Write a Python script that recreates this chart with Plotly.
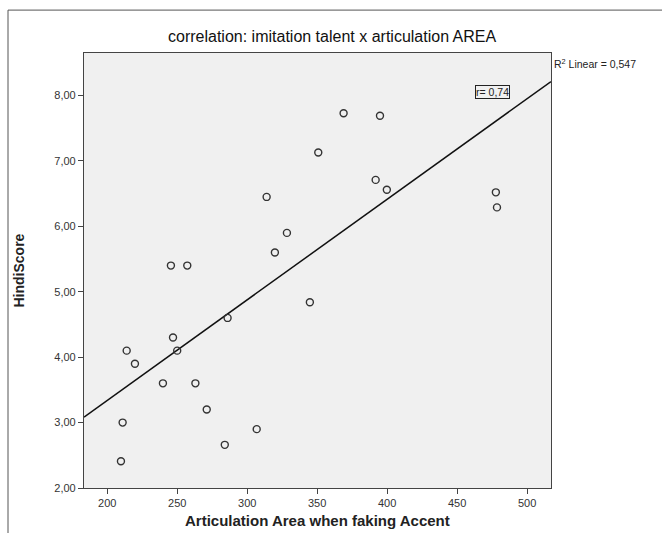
import numpy as np
import plotly.graph_objects as go

# ---- data ----
articulation_area = [209.8, 211.0, 213.9, 219.8, 239.8, 245.5, 247.0, 250.0, 257.2, 263.0,
                     271.1, 284.0, 286.0, 306.8, 313.9, 319.8, 328.4, 344.8, 350.8, 368.9,
                     391.8, 394.9, 399.8, 477.7, 478.5]
hindi_score = [2.41, 3.00, 4.10, 3.90, 3.60, 5.40, 4.30, 4.10, 5.40, 3.60,
               3.20, 2.66, 4.60, 2.90, 6.45, 5.60, 5.90, 4.84, 7.13, 7.73,
               6.71, 7.69, 6.56, 6.52, 6.29]
x_ticks = [200, 250, 300, 350, 400, 450, 500]
y_ticks = [2, 3, 4, 5, 6, 7, 8]
y_tick_labels = ["2,00", "3,00", "4,00", "5,00", "6,00", "7,00", "8,00"]
title_text = "correlation: imitation talent x articulation AREA"
x_title = "Articulation Area when faking Accent"
y_title = "HindiScore"
r2_text = "R<sup>2</sup> Linear = 0,547"
r_text = "r= 0,74"

x_range = [183.4, 517.1]
y_range = [2.0, 8.65]

# fit line from the data
xa = np.array(articulation_area)
ya = np.array(hindi_score)
slope, intercept = np.polyfit(xa, ya, 1)
line_x = np.array(x_range)
line_y = intercept + slope * line_x

FONT = "Arial, 'Liberation Sans', sans-serif"
fig = go.Figure()
fig.add_trace(go.Scatter(x=line_x, y=line_y, mode="lines",
                         line=dict(color="#111111", width=1.5),
                         hoverinfo="skip", showlegend=False))
fig.add_trace(go.Scatter(x=articulation_area, y=hindi_score, mode="markers",
                         marker=dict(symbol="circle-open", size=7,
                                     color="#333333", line=dict(width=1.4, color="#333333")),
                         showlegend=False))

fig.update_layout(
    width=662, height=533,
    margin=dict(l=84, r=111, t=53, b=45),
    paper_bgcolor="white",
    plot_bgcolor="#f0f0f0",
    font=dict(family=FONT, color="#333333", size=11),
    showlegend=False,
    xaxis=dict(range=x_range, tickvals=x_ticks, ticks="outside", ticklen=5,
               tickcolor="#444444", showgrid=False, zeroline=False,
               showline=True, linecolor="#444444", linewidth=1.2, mirror=True,
               tickfont=dict(size=11, color="#333333")),
    yaxis=dict(range=y_range, tickvals=y_ticks, ticktext=y_tick_labels,
               ticks="outside", ticklen=5, tickcolor="#444444",
               showgrid=False, zeroline=False,
               showline=True, linecolor="#444444", linewidth=1.2, mirror=True,
               tickfont=dict(size=11, color="#333333")),
    shapes=[dict(type="rect", xref="paper", yref="paper",
                 x0=-76/467, x1=(662-84+4)/467, y0=-60/436, y1=1+43/436,
                 line=dict(color="#555555", width=1), fillcolor="rgba(0,0,0,0)",
                 layer="below")],
    annotations=[
        dict(text=title_text, xref="paper", yref="paper", x=0.53, y=1,
             yshift=17, xanchor="center", yanchor="middle", showarrow=False,
             font=dict(size=16, color="#111111", family=FONT)),
        dict(text=x_title, xref="paper", yref="paper", x=0.5, y=0,
             yshift=-32, xanchor="center", yanchor="middle", showarrow=False,
             font=dict(size=15, color="#222222", family=FONT), ),
        dict(text="<b>" + y_title + "</b>", xref="paper", yref="paper", x=0, y=0.5,
             xshift=-66, textangle=-90, xanchor="center", yanchor="middle",
             showarrow=False, font=dict(size=14, color="#222222", family=FONT)),
        dict(text=r2_text, xref="paper", yref="paper", x=1, y=1, xshift=1,
             yshift=-10, xanchor="left", yanchor="middle", showarrow=False,
             font=dict(size=10.5, color="#222222", family=FONT)),
        dict(text=r_text, xref="paper", yref="paper", x=(492 - 84) / 466.7, y=1,
             yshift=-39, xanchor="center", yanchor="middle", showarrow=False,
             bordercolor="#222222", borderwidth=1, borderpad=0, bgcolor="#f0f0f0",
             font=dict(size=10.5, color="#222222", family=FONT)),
    ],
)
fig.layout.annotations[1].text = "<b>" + x_title + "</b>"
fig.write_html("out.html")
print(slope, intercept)
